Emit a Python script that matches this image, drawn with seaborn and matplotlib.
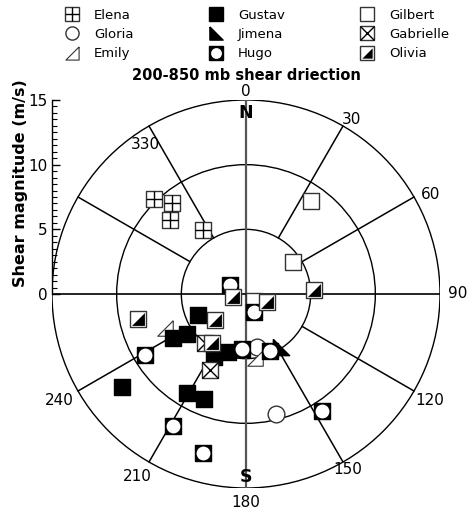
import numpy as np
import pandas as pd
import matplotlib
matplotlib.use("Agg")
import matplotlib.pyplot as plt
import seaborn as sns
from matplotlib.lines import Line2D
from matplotlib.patches import Circle
from matplotlib.legend_handler import HandlerTuple

# shear direction (deg, clockwise from N) and magnitude (m/s) per storm
elena_dir = [316, 321, 314, 326]
elena_mag = [10.2, 9.1, 8.2, 6.0]
gilbert_dir = [35, 56, 129]
gilbert_mag = [8.8, 4.4, 0.8]
gloria_dir = [166, 168]
gloria_mag = [9.6, 4.2]
emily_dir = [247, 172]
emily_mag = [6.8, 5.0]
jimena_dir = [146]
jimena_mag = [4.9]
gustav_dir = [246, 239, 236, 197, 207, 233, 211, 202]
gustav_mag = [4.05, 6.6, 5.5, 4.7, 5.5, 12.0, 8.9, 8.75]
gabrielle_dir = [205, 220]
gabrielle_mag = [6.5, 4.9]
hugo_dir = [299, 156, 239, 184, 157, 147, 209, 195]
hugo_mag = [1.4, 1.5, 9.1, 4.3, 4.8, 10.8, 11.7, 12.7]
olivia_dir = [87, 257, 111, 257, 230, 215]
olivia_mag = [5.3, 1.0, 1.7, 8.6, 3.1, 4.6]

ring_radii = [5, 10, 15]
dir_labels = [0, 30, 60, 90, 120, 150, 180, 210, 240, 330]


def to_frame(name, d, m):
    d = np.radians(np.array(d, dtype=float))
    m = np.array(m, dtype=float)
    return pd.DataFrame({"storm": name, "x": m * np.sin(d), "y": m * np.cos(d)})


df = pd.concat([
    to_frame("Elena", elena_dir, elena_mag),
    to_frame("Gilbert", gilbert_dir, gilbert_mag),
    to_frame("Gloria", gloria_dir, gloria_mag),
    to_frame("Emily", emily_dir, emily_mag),
    to_frame("Jimena", jimena_dir, jimena_mag),
    to_frame("Gustav", gustav_dir, gustav_mag),
    to_frame("Gabrielle", gabrielle_dir, gabrielle_mag),
    to_frame("Hugo", hugo_dir, hugo_mag),
    to_frame("Olivia", olivia_dir, olivia_mag),
], ignore_index=True)

sns.set_style("white")
plt.rcParams["font.family"] = ["DejaVu Sans"]
plt.rcParams["text.color"] = "black"
plt.rcParams["axes.labelcolor"] = "black"
plt.rcParams["ytick.color"] = "black"

fig = plt.figure(figsize=(4.72, 5.12), dpi=100)
ax = fig.add_axes([52 / 472, 24 / 512, 388 / 472, 388 / 512])
ax.set_xlim(-15, 15)
ax.set_ylim(-15, 15)
ax.set_aspect("equal")

# grid: rings and spokes
for r in ring_radii:
    ax.add_patch(Circle((0, 0), r, fill=False, lw=1.0, color="black", zorder=1))
for a in range(30, 360, 30):
    if a % 90 == 0:
        continue
    t = np.radians(a)
    ax.plot([5 * np.sin(t), 15 * np.sin(t)], [5 * np.cos(t), 15 * np.cos(t)],
            color="black", lw=1.1, zorder=1)
ax.plot([0, 0], [-15, 15], color="#555555", lw=1.6, zorder=1)
ax.plot([-15, 15], [0, 0], color="black", lw=1.2, zorder=1)

MS = 138  # marker area (pt^2)
EC = "#333333"
tri_lr = [(1, 1), (1, -1), (-1, -1), (1, 1)]
tri_ll = [(-1, 1), (-1, -1), (1, -1), (-1, 1)]


def layer(name, marker, s=MS, fc="white", ec=EC, lw=1.0):
    sns.scatterplot(data=df[df.storm == name], x="x", y="y", marker=marker, s=s,
                    color=fc, edgecolor=ec, linewidth=lw, legend=False, ax=ax, zorder=3)


def line_layer(name, marker, s=MS, lw=1.0):
    sub = df[df.storm == name]
    ax.scatter(sub.x, sub.y, marker=marker, s=s, c="black", linewidths=lw, zorder=3)


# Elena: square with cross
layer("Elena", "s")
line_layer("Elena", "+")
# Gilbert: open square
layer("Gilbert", "s")
# Gloria: open circle
layer("Gloria", "o", s=MS * 1.05)
# Emily: open triangle
layer("Emily", tri_lr, s=MS * 0.9, lw=0.8)
# Jimena: filled triangle
layer("Jimena", tri_ll, s=MS, fc="black", ec="black")
# Gustav: filled square
layer("Gustav", "s", fc="black", ec="black")
# Gabrielle: square with X
layer("Gabrielle", "s")
line_layer("Gabrielle", "x")
# Hugo: black square with white circle
layer("Hugo", "s", fc="black", ec="black")
layer("Hugo", "o", s=MS * 0.72, fc="white", ec="white", lw=0)
# Olivia: half-filled square
layer("Olivia", "s")
layer("Olivia", tri_lr, s=MS * 0.62, fc="black", ec="black", lw=0)

# direction labels
lab_pos = {30: (31.2, 15.8), 60: (61.7, 16.2), 90: (90, 16.4),
           120: (120, 16.4), 150: (150, 15.7), 180: (180, 16.1),
           210: (210.8, 16.4), 240: (240.3, 16.6), 330: (326, 13.9)}
for d in dir_labels:
    if d == 0:
        ax.text(0, 16.25, "0", ha="center", va="top", fontsize=11, clip_on=False)
        continue
    a, r = lab_pos[d]
    t = np.radians(a)
    ax.text(r * np.sin(t), r * np.cos(t), str(d), ha="center", va="center",
            fontsize=11, clip_on=False)
ax.text(0, 14.0, "N", ha="center", va="center", fontsize=12.5, fontweight="bold")
ax.text(0, -14.15, "S", ha="center", va="center", fontsize=12.5, fontweight="bold")

# y axis as magnitude scale
for s in ["top", "right", "bottom"]:
    ax.spines[s].set_visible(False)
ax.spines["left"].set_bounds(0, 15)
ax.spines["left"].set_linewidth(1.0)
ax.spines["left"].set_color("black")
ax.set_xticks([])
ax.set_yticks([0, 5, 10, 15])
ax.set_yticks(np.arange(0, 15.01, 0.5), minor=True)
ax.tick_params(axis="y", which="major", direction="in", length=6, width=1,
               labelsize=11, pad=3, left=True, colors="black")
ax.tick_params(axis="y", which="minor", direction="in", length=3.5, width=0.8,
               left=True, colors="black")
ax.set_xlabel("")
ax.set_ylabel("Shear magnitude (m/s)", fontsize=11.5, fontweight="bold")
ax.yaxis.set_label_coords(-0.062, 0.785)

fig.text(246 / 472, 1 - 75 / 512, "200-850 mb shear driection", ha="center",
         va="center", fontsize=10.5, fontweight="bold")

# legend
lms = 9.5


def h(marker, fc="white", ec=EC, ms=lms, mew=1.0):
    return Line2D([], [], linestyle="", marker=marker, markersize=ms,
                  markerfacecolor=fc, markeredgecolor=ec, markeredgewidth=mew)


handles = [
    (h("s"), h("+", ec="black")),
    h("o"),
    h(tri_lr, mew=0.8),
    h("s", fc="black", ec="black"),
    h(tri_ll, fc="black", ec="black"),
    (h("s", fc="black", ec="black"), h("o", fc="white", ec="white", ms=lms * 0.82, mew=0)),
    h("s"),
    (h("s"), h("x", ec="black")),
    (h("s"), h(tri_lr, fc="black", ec="black", ms=lms * 0.78, mew=0)),
]
labels = ["Elena", "Gloria", "Emily", "Gustav", "Jimena", "Hugo",
          "Gilbert", "Gabrielle", "Olivia"]
fig.legend(handles, labels, ncol=3, loc="upper left",
           bbox_to_anchor=(65 / 472, 1 - 9 / 512), frameon=False, fontsize=9.5,
           handlelength=1.1, handletextpad=1.1, columnspacing=5.7,
           labelspacing=0.46, borderpad=0, borderaxespad=0,
           handler_map={tuple: HandlerTuple(ndivide=1)})

fig.savefig("out.png", dpi=100)
